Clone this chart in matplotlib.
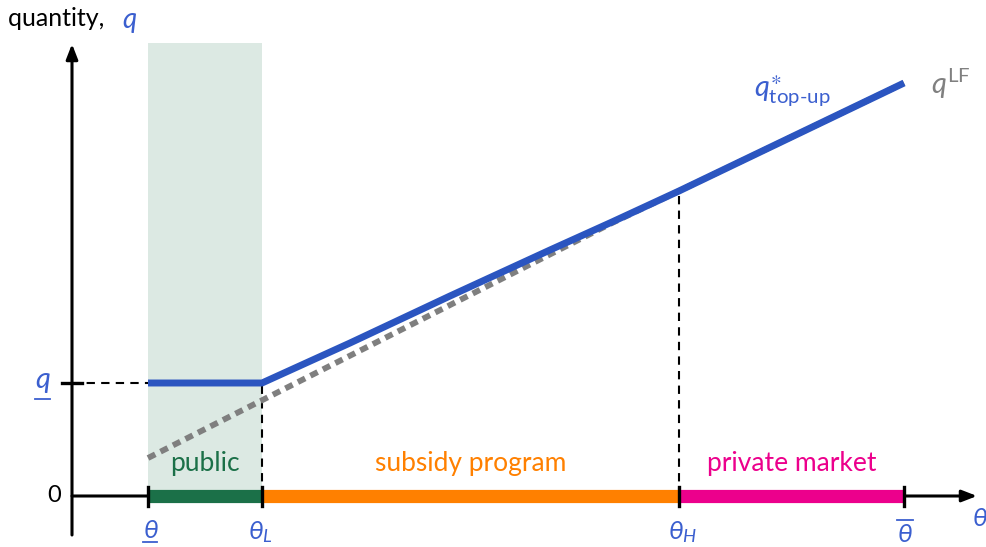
import matplotlib.pyplot as plt

plt.rcParams['font.family'] = ['Lato', 'DejaVu Sans']
plt.rcParams['mathtext.fontset'] = 'custom'
plt.rcParams['mathtext.rm'] = 'Lato'
plt.rcParams['mathtext.it'] = 'Lato:italic'
plt.rcParams['mathtext.fallback'] = 'stix'

# Key thresholds on the type axis
theta_lo = 0.76
theta_L = 1.90
theta_H = 6.07
theta_hi = 8.32
q_floor = 1.13

# Optimal top-up quantity
topup_theta = [0.76, 1.90, 2.78, 3.78, 4.78, 5.40, 6.07, 8.32]
topup_q = [1.13, 1.13, 1.53, 2.00, 2.46, 2.74, 3.05, 4.13]

# Laissez-faire quantity
lf_theta = [0.76, 5.40, 6.07, 8.32]
lf_q = [0.38, 2.73, 3.05, 4.13]

# Regions along the axis
regions = ['public', 'subsidy program', 'private market']
region_edges = [theta_lo, theta_L, theta_H, theta_hi]
region_colors = ['#1b7048', '#ff8000', '#ec008c']

blue = '#2b55c0'
label_blue = '#3b5fcf'
dash = (0, (4, 3))

fig = plt.figure(figsize=(9.87, 5.47), dpi=100)
ax = fig.add_axes([0, 0, 1, 1])
ax.set_xlim(-0.72, 9.15)
ax.set_ylim(-0.51, 4.96)
ax.axis('off')

# shaded public region
ax.fill_between([theta_lo, theta_L], 0, 4.53, color='#dce9e3', zorder=0, lw=0)

# axes with arrows
arrow = dict(arrowstyle='-|>,head_length=0.9,head_width=0.35', color='black', lw=2.2,
             shrinkA=0, shrinkB=0)
ax.annotate('', xy=(9.05, 0), xytext=(0, 0), arrowprops=arrow, zorder=3)
ax.annotate('', xy=(0, 4.52), xytext=(0, -0.39), arrowprops=arrow, zorder=3)

# colored segments on the axis
for i, (name, col) in enumerate(zip(regions, region_colors)):
    ax.plot([region_edges[i], region_edges[i + 1]], [0, 0], color=col, lw=9.5,
            solid_capstyle='butt', zorder=4)
    ax.text((region_edges[i] + region_edges[i + 1]) / 2, 0.32, name, color=col,
            fontsize=19, ha='center', va='center')

# ticks
for t in region_edges:
    ax.plot([t, t], [-0.1, 0.09], color='black', lw=2.4, zorder=5)
ax.plot([-0.1, 0.1], [q_floor, q_floor], color='black', lw=2.4, zorder=5)

# dashed guides
ax.plot([0, theta_lo], [q_floor, q_floor], color='black', lw=1.5, ls=dash, zorder=2)
ax.plot([theta_L, theta_L], [0, q_floor], color='black', lw=1.5, ls=dash, zorder=2)
ax.plot([theta_H, theta_H], [0, topup_q[6]], color='black', lw=1.5, ls=dash, zorder=2)

# curves
ax.plot(lf_theta, lf_q, color='#7f7f7f', lw=4.2, ls=(0, (1.4, 1.0)), zorder=2)
ax.plot(topup_theta, topup_q, color=blue, lw=5, solid_capstyle='butt', zorder=6)

# labels
ax.text(-0.64, 4.78, 'quantity, ', fontsize=18, ha='left', va='center')
ax.text(0.50, 4.76, 'q', fontsize=20, style='italic', color=label_blue, ha='left', va='center')

ax.text(6.82, 4.04, r'$q^{\ast}_{\text{top-up}}$', fontsize=21, color=label_blue,
        ha='left', va='center')
ax.text(8.59, 4.12, r'$q^{\mathrm{LF}}$', fontsize=21, color='#808080', ha='left', va='center')

ax.text(-0.11, 0, '0', fontsize=17, ha='right', va='center')

# q underline label
ax.text(-0.29, q_floor + 0.03, 'q', fontsize=21, style='italic', color=label_blue,
        ha='center', va='center')
ax.plot([-0.37, -0.22], [q_floor - 0.16, q_floor - 0.16], color=label_blue, lw=1.3)

# theta labels
ax.text(theta_lo + 0.03, -0.34, 'θ', fontsize=19, style='italic', color=label_blue,
        ha='center', va='center')
ax.plot([theta_lo - 0.05, theta_lo + 0.09], [-0.46, -0.46], color=label_blue, lw=1.3)
ax.text(theta_L - 0.02, -0.36, r'$\theta_L$', fontsize=19, color=label_blue, ha='center', va='center')
ax.text(theta_H + 0.04, -0.36, r'$\theta_H$', fontsize=19, color=label_blue, ha='center', va='center')
ax.text(theta_hi + 0.01, -0.38, 'θ', fontsize=19, style='italic', color=label_blue,
        ha='center', va='center')
ax.plot([theta_hi - 0.07, theta_hi + 0.09], [-0.24, -0.24], color=label_blue, lw=1.3)
ax.text(9.08, -0.22, 'θ', fontsize=19, style='italic', color=label_blue, ha='center', va='center')

fig.savefig('out.png', dpi=100)
